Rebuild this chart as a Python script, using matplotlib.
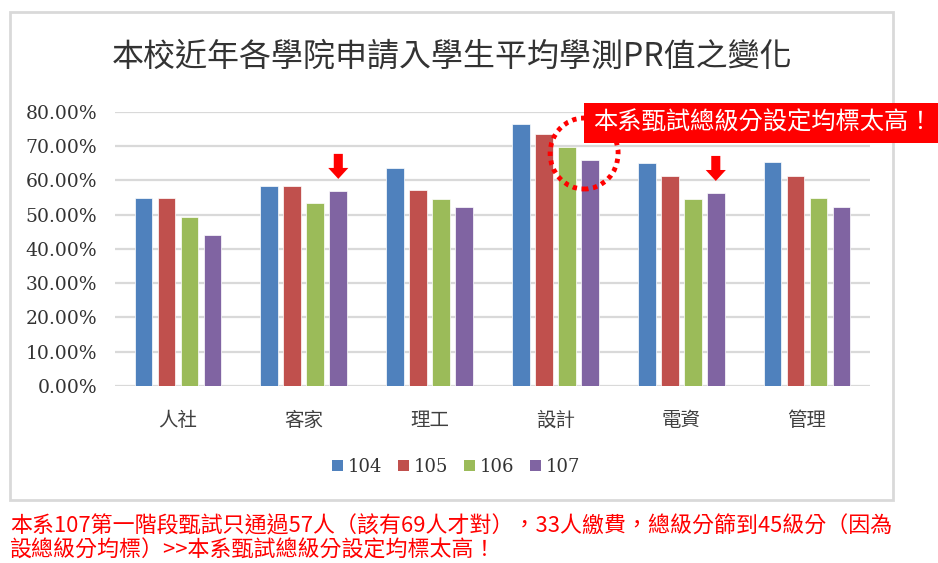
import matplotlib
matplotlib.use("Agg")
import matplotlib.pyplot as plt
from matplotlib.patches import Rectangle, Ellipse, Patch, Polygon
import numpy as np

plt.rcParams['font.family'] = ['Noto Sans CJK TC', 'DejaVu Sans']

categories = ['人社', '客家', '理工', '設計', '電資', '管理']
series_names = ['104', '105', '106', '107']
v104 = [0.547, 0.583, 0.636, 0.763, 0.649, 0.652]
v105 = [0.547, 0.583, 0.573, 0.734, 0.613, 0.613]
v106 = [0.493, 0.533, 0.544, 0.696, 0.544, 0.547]
v107 = [0.439, 0.569, 0.523, 0.658, 0.563, 0.523]
colors = ['#4F81BD', '#C0504D', '#9BBB59', '#8064A2']
yticks = [0.0, 0.1, 0.2, 0.3, 0.4, 0.5, 0.6, 0.7, 0.8]
title = '本校近年各學院申請入學生平均學測PR值之變化'
callout = '本系甄試總級分設定均標太高！'
note1 = '本系107第一階段甄試只通過57人（該有69人才對），33人繳費，總級分篩到45級分（因為'
note2 = '設總級分均標）>>本系甄試總級分設定均標太高！'
arrow_targets = [(1, 3), (4, 3)]  # (category index, series index)

W, H = 938, 563
fig = plt.figure(figsize=(W / 100, H / 100), dpi=100)

def fx(px):
    return px / W

def fy(py):
    return 1 - py / H

# chart frame
fig.patches.append(Rectangle((fx(10), fy(500)), fx(883), 488 / H, transform=fig.transFigure,
                             fill=False, edgecolor='#D9D9D9', linewidth=2, zorder=0))

ax = fig.add_axes([fx(115), fy(386), fx(870) - fx(115), (386 - 111.7) / H])
x = np.arange(len(categories))
step = 0.183
bw = 0.14
allvals = [v104, v105, v106, v107]
for i, (vals, c, name) in enumerate(zip(allvals, colors, series_names)):
    ax.bar(x + (i - 1.5) * step, vals, width=bw, color=c, label=name, zorder=3,
           edgecolor='white', linewidth=0.5)

ax.set_ylim(0, 0.8)
ax.set_xlim(-0.5, len(categories) - 0.5)
ax.set_yticks(yticks)
ax.set_yticklabels([f'{t*100:.2f}%' for t in yticks], family='DejaVu Serif',
                   fontsize=13.5, color='#333333')
ax.set_xticks(x)
ax.set_xticklabels(categories, fontsize=14, color='#404040')
ax.tick_params(axis='y', length=0, pad=13)
ax.tick_params(axis='x', length=0, pad=17)
ax.grid(axis='y', color='#D9D9D9', linewidth=1.6, zorder=0)
ax.set_axisbelow(True)
for s in ax.spines.values():
    s.set_visible(False)

# title
fig.text(fx(452), fy(57), title, ha='center', va='center', fontsize=23, color='#333333')

# legend
handles = [Patch(facecolor=c, edgecolor='none') for c in colors]
leg = fig.legend(handles, series_names, loc='center', bbox_to_anchor=(fx(456), fy(467)),
                 ncol=4, frameon=False, handlelength=0.6, handleheight=0.6,
                 handletextpad=0.25, columnspacing=0.9,
                 prop={'family': 'DejaVu Serif', 'size': 13})
for t in leg.get_texts():
    t.set_color('#333333')

# dotted circle around 設計
ax.add_patch(Ellipse((3.228, 0.678), 68 / 125.8, 71 / 342.9, fill=False,
                     edgecolor='#FF0000', linewidth=3.5, linestyle=(0, (0.9, 0.95)),
                     zorder=5, clip_on=False))

# arrows
for ci, si in arrow_targets:
    xc = ci + (si - 1.5) * step
    top = allvals[si][ci]
    tip = top + 0.035
    sh_w = 0.036
    hd_w = 0.08
    hd_len = 0.032
    sh_top = tip + 0.073
    pts = [(xc - sh_w, sh_top), (xc + sh_w, sh_top), (xc + sh_w, tip + hd_len),
           (xc + hd_w, tip + hd_len), (xc, tip), (xc - hd_w, tip + hd_len),
           (xc - sh_w, tip + hd_len)]
    ax.add_patch(Polygon(pts, closed=True, facecolor='#FF0000', edgecolor='none', zorder=6))

# callout box
fig.patches.append(Rectangle((fx(584), fy(143)), fx(354), 40 / H, transform=fig.transFigure,
                             facecolor='#FF0000', edgecolor='none', zorder=10))
fig.text(fx(763), fy(123), callout, ha='center', va='center', fontsize=17.5,
         color='white', zorder=11)

# notes
fig.text(fx(10), fy(527), note1, ha='left', va='center', fontsize=15.8, color='#FF0000')
fig.text(fx(10), fy(551), note2, ha='left', va='center', fontsize=15.8, color='#FF0000')

fig.savefig('out.png', dpi=100, facecolor='white')
